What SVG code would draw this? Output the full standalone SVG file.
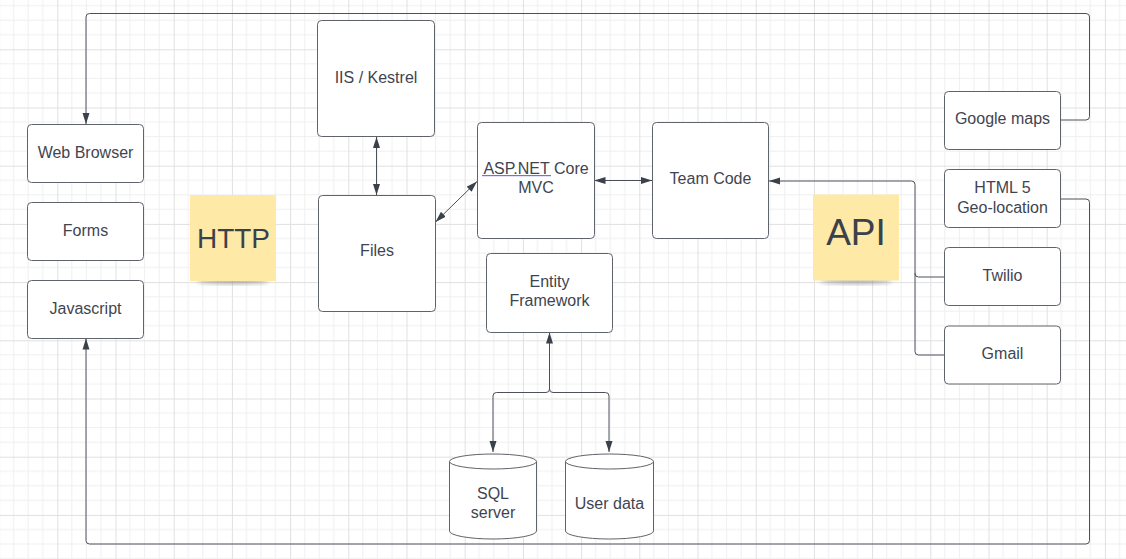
<svg xmlns="http://www.w3.org/2000/svg" width="1126" height="559" viewBox="0 0 1126 559">
<defs>
<pattern id="grid" x="-0.9" y="-8.9" width="58.2" height="58.2" patternUnits="userSpaceOnUse">
<path d="M14.55,0V58.2M29.1,0V58.2M43.65,0V58.2M0,14.55H58.2M0,29.1H58.2M0,43.65H58.2" stroke="#efefef" stroke-width="1" fill="none"/>
<path d="M0.5,0V58.2M0,0.5H58.2" stroke="#e0e0e0" stroke-width="1" fill="none"/>
</pattern>
<marker id="arr" markerUnits="userSpaceOnUse" markerWidth="11" markerHeight="8" refX="11" refY="4" orient="auto-start-reverse">
<path d="M0,0.5L11,4L0,7.5z" fill="#3a414a"/>
</marker>
<filter id="sh" x="-50%" y="-50%" width="200%" height="200%">
<feGaussianBlur stdDeviation="2.5"/>
</filter>
<style>
.box{fill:#fff;stroke:#5f636a;stroke-width:1}
.t{font-family:"Liberation Sans",Arial,sans-serif;font-size:16px;fill:#3f4550;text-anchor:middle}
.c{fill:none;stroke:#4b5059;stroke-width:1}
.note{fill:#fee9a7}
.nt{font-family:"Liberation Sans",Arial,sans-serif;fill:#3a414a;text-anchor:middle}
</style>
</defs>
<rect width="1126" height="559" fill="#fff"/>
<rect width="1126" height="559" fill="url(#grid)"/>

<g id="connectors">
<path class="c" d="M1060.5,120H1086Q1089.5,120 1089.5,116.5V17Q1089.5,13.5 1086,13.5H89.5Q86,13.5 86,17V124" marker-end="url(#arr)"/>
<path class="c" d="M1060.5,199H1086Q1089.5,199 1089.5,202.5V540.5Q1089.5,544 1086,544H89.5Q86,544 86,540.5V338.5" marker-end="url(#arr)"/>
<path class="c" d="M376.5,137V195" marker-start="url(#arr)" marker-end="url(#arr)"/>
<path class="c" d="M435.5,222L477,181.5" marker-start="url(#arr)" marker-end="url(#arr)"/>
<path class="c" d="M594.5,180.5H652" marker-start="url(#arr)" marker-end="url(#arr)"/>
<path class="c" d="M944,277H918.5Q915,277 915,273.5V184.5Q915,181 911.5,181H769" marker-end="url(#arr)"/>
<path class="c" d="M944,355H918.5Q915,355 915,351.5V273"/>
<path class="c" d="M549.5,389V332.5" marker-end="url(#arr)"/>
<path class="c" d="M549.5,389Q549.5,392.5 546,392.5H496.5Q493,392.5 493,396V452" marker-end="url(#arr)"/>
<path class="c" d="M549.5,389Q549.5,392.5 553,392.5H605.5Q609,392.5 609,396V452" marker-end="url(#arr)"/>
</g>

<g id="web-browser"><rect class="box" x="27.5" y="124.5" width="116" height="58" rx="4"/><text class="t" x="85.5" y="158">Web Browser</text></g>
<g id="forms"><rect class="box" x="27.5" y="202.5" width="116" height="58" rx="4"/><text class="t" x="85.5" y="236">Forms</text></g>
<g id="javascript"><rect class="box" x="27.5" y="280.5" width="116" height="58" rx="4"/><text class="t" x="85.5" y="314">Javascript</text></g>

<g id="http-note">
<ellipse cx="233" cy="281" rx="36" ry="2.5" fill="#555" opacity="0.55" filter="url(#sh)"/>
<rect class="note" x="190" y="195" width="86" height="86"/>
<text class="nt" x="233.5" y="247.5" font-size="28">HTTP</text>
</g>

<g id="iis-kestrel"><rect class="box" x="317.5" y="20.5" width="117" height="116" rx="4"/><text class="t" x="376" y="82.5">IIS / Kestrel</text></g>
<g id="files"><rect class="box" x="318.5" y="195.5" width="117" height="116" rx="4"/><text class="t" x="377" y="256">Files</text></g>

<g id="aspnet-core-mvc"><rect class="box" x="477.5" y="122.5" width="117" height="116" rx="4"/>
<text class="t" x="536" y="173.5">ASP.NET Core</text><text class="t" x="536" y="192.5">MVC</text>
<rect x="482" y="175" width="69" height="1.2" fill="#6f6ff5"/></g>

<g id="team-code"><rect class="box" x="652.5" y="122.5" width="116" height="116" rx="4"/><text class="t" x="710.5" y="184">Team Code</text></g>

<g id="entity-framework"><rect class="box" x="486.5" y="253.5" width="126" height="79" rx="4"/>
<text class="t" x="549.5" y="287">Entity</text><text class="t" x="549.5" y="306">Framework</text></g>

<g id="sql-server">
<path class="box" d="M449.5,461.5V531A43.5,8 0 0 0 536.5,531V461.5"/>
<ellipse class="box" cx="493" cy="461.5" rx="43.5" ry="7.5"/>
<text class="t" x="493" y="499">SQL</text><text class="t" x="493" y="518">server</text>
</g>
<g id="user-data">
<path class="box" d="M565.5,461.5V531A44,8 0 0 0 653.5,531V461.5"/>
<ellipse class="box" cx="609.5" cy="461.5" rx="44" ry="7.5"/>
<text class="t" x="609.5" y="509">User data</text>
</g>

<g id="api-note">
<ellipse cx="856" cy="281" rx="36" ry="2.5" fill="#555" opacity="0.55" filter="url(#sh)"/>
<rect class="note" x="813" y="194.5" width="86" height="86"/>
<text class="nt" x="856" y="245" font-size="37">API</text>
</g>

<g id="google-maps"><rect class="box" x="944.5" y="91.5" width="116" height="58" rx="4"/><text class="t" x="1002.5" y="123.5">Google maps</text></g>
<g id="html5-geolocation"><rect class="box" x="944.5" y="169.5" width="116" height="58" rx="4"/>
<text class="t" x="1002.5" y="193">HTML 5</text><text class="t" x="1002.5" y="212.5">Geo-location</text></g>
<g id="twilio"><rect class="box" x="944.5" y="247.5" width="116" height="58" rx="4"/><text class="t" x="1002.5" y="280.5">Twilio</text></g>
<g id="gmail"><rect class="box" x="944.5" y="326" width="116" height="58" rx="4"/><text class="t" x="1002.5" y="358.5">Gmail</text></g>
</svg>
